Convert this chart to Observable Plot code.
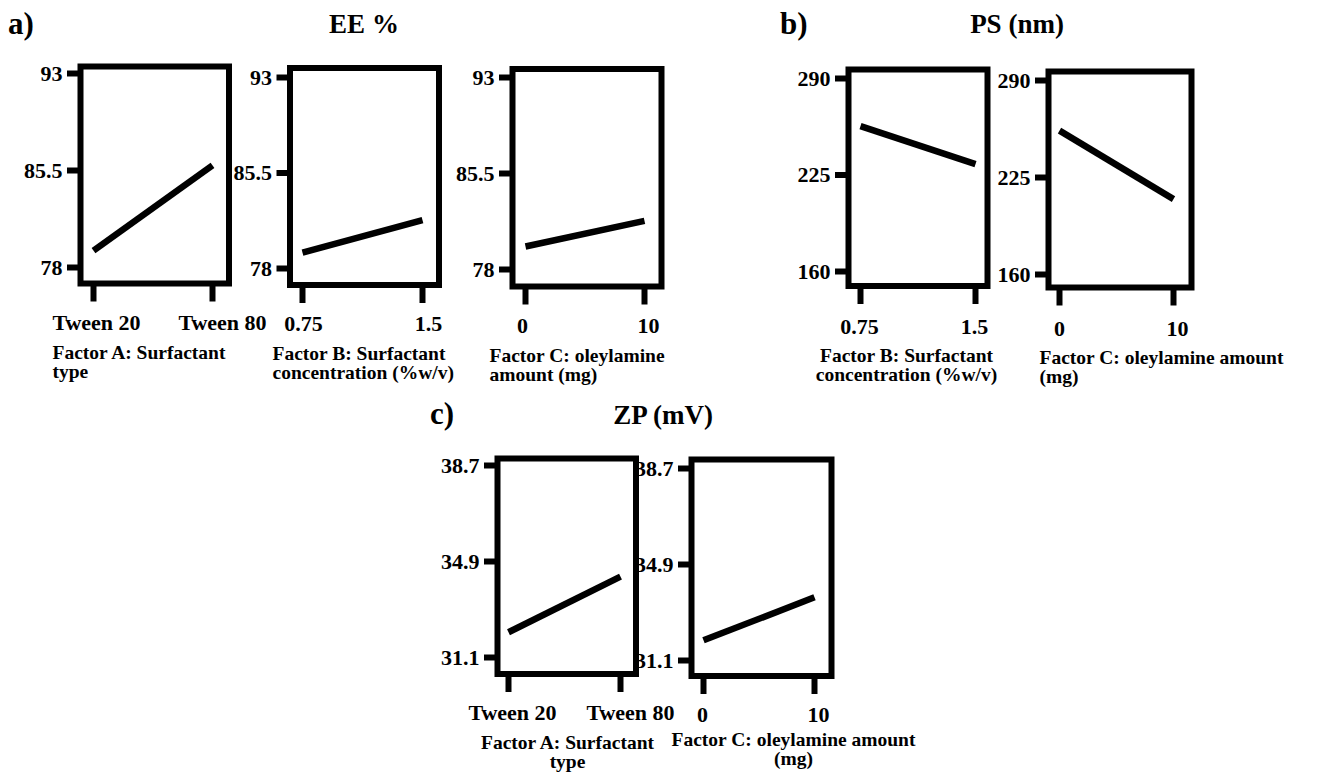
<!DOCTYPE html>
<html>
<head>
<meta charset="utf-8">
<script src="https://cdn.jsdelivr.net/npm/d3@7"></script>
<script src="https://cdn.jsdelivr.net/npm/@observablehq/plot@0.6"></script>
<style>
  html, body { margin: 0; padding: 0; background: #fff; }
  #stage { position: relative; width: 1318px; height: 775px; overflow: hidden;
           font-family: 'Liberation Serif', 'Times New Roman', serif; font-weight: bold; color: #000; }
  #stage svg { position: absolute; left: 0; top: 0; }
  .title { position: absolute; white-space: nowrap; line-height: 1; }
</style>
</head>
<body>
<div id="stage"></div>
<script>
// ---------- data ----------
const surfactantTypes = ["Tween 20", "Tween 80"];   // Factor A levels
const surfactantConc = [0.75, 1.5];                 // Factor B levels (%w/v)
const oleylamineAmount = [0, 10];                   // Factor C levels (mg)

const eeTicks = [78, 85.5, 93];
const psTicks = [160, 225, 290];
const zpTicks = [31.1, 34.9, 38.7];

const eeVsA = [79.3, 85.9];
const eeVsB = [79.25, 81.8];
const eeVsC = [79.8, 81.8];
const psVsB = [257.9, 232.3];
const psVsC = [256.4, 210.5];
const zpVsA = [32.1, 34.3];
const zpVsC = [31.9, 33.6];

const labelA = "Factor A: Surfactant\ntype";
const labelB = "Factor B: Surfactant\nconcentration (%w/v)";
const labelC1 = "Factor C: oleylamine\namount (mg)";
const labelC2 = "Factor C: oleylamine amount\n(mg)";

const groupTitles = [
  {letter: "a)", name: "EE %"},
  {letter: "b)", name: "PS (nm)"},
  {letter: "c)", name: "ZP (mV)"}
];

// ---------- layout (page pixels) ----------
const W = 1318, H = 775;
const FONT = "Liberation Serif";

const panels = [
  {levels: surfactantTypes, cat: true, values: eeVsA, ticks: eeTicks, label: labelA,
   frame: {l: 80, t: 66, r: 228.5, b: 283}, xPx: [93, 212], yPx: [267, 73],
   lab: {anchor: "start", x: 52, base: 359}, xPad: 12, xLabDx: [3, 10]},
  {levels: surfactantConc, cat: false, values: eeVsB, ticks: eeTicks, label: labelB,
   frame: {l: 289.5, t: 67.5, r: 438.5, b: 284.5}, xPx: [302, 422], yPx: [268, 77],
   lab: {anchor: "start", x: 272, base: 360}, xPad: 12, xLabDx: [1, 6]},
  {levels: oleylamineAmount, cat: false, values: eeVsC, ticks: eeTicks, label: labelC1,
   frame: {l: 512, t: 68.5, r: 661, b: 286}, xPx: [525, 644], yPx: [269, 77],
   lab: {anchor: "start", x: 489, base: 362}, xPad: 12, xLabDx: [-3, 4]},
  {levels: surfactantConc, cat: false, values: psVsB, ticks: psTicks, label: labelB,
   frame: {l: 848, t: 69, r: 987, b: 285.5}, xPx: [860, 975], yPx: [271, 78],
   lab: {anchor: "middle", x: 906, base: 362}, xPad: 14, xLabDx: [-1, -1]},
  {levels: oleylamineAmount, cat: false, values: psVsC, ticks: psTicks, label: labelC2,
   frame: {l: 1048, t: 71, r: 1191, b: 287}, xPx: [1059, 1173], yPx: [274, 80],
   lab: {anchor: "start", x: 1039, base: 364}, xPad: 14, xLabDx: [0, 4]},
  {levels: surfactantTypes, cat: true, values: zpVsA, ticks: zpTicks, label: labelA,
   frame: {l: 497, t: 458, r: 635.5, b: 673.5}, xPx: [508, 620], yPx: [657, 465],
   lab: {anchor: "middle", x: 567, base: 749}, xPad: 12, xLabDx: [4, 10]},
  {levels: oleylamineAmount, cat: false, values: zpVsC, ticks: zpTicks, label: labelC2,
   frame: {l: 691, t: 459, r: 831, b: 675.5}, xPx: [703, 814], yPx: [660, 468],
   lab: {anchor: "middle", x: 793, base: 746}, xPad: 12, xLabDx: [-1, 4]}
];

const titlePos = [
  {lx: 8, ly: 8, cx: 364, cy: 10.5},
  {lx: 780, ly: 8, cx: 1017, cy: 11},
  {lx: 430, ly: 398, cx: 663, cy: 402}
];

const stage = document.getElementById("stage");
const X_TICK = 18.5;

// ---------- panels ----------
for (const p of panels) {
  const f = p.frame;
  const data = p.levels.map((lv, i) => ({x: lv, y: p.values[i]}));
  const labFs = 19.5;
  const dy = p.lab.base - f.b - 0.71 * labFs;
  const dx = p.lab.anchor === "start" ? p.lab.x - f.l : p.lab.x - (f.l + f.r) / 2;
  const tickText = {fontSize: 22, fontWeight: "bold", fontFamily: FONT, fill: "#000"};
  const svg = Plot.plot({
    width: W, height: H,
    marginLeft: f.l, marginTop: f.t, marginRight: W - f.r, marginBottom: H - f.b,
    style: {background: "transparent", fontFamily: FONT, overflow: "visible"},
    x: p.cat
      ? {type: "point", domain: p.levels, range: p.xPx, padding: 0}
      : {type: "linear", domain: p.levels, range: p.xPx},
    y: {type: "linear", domain: [p.ticks[0], p.ticks[p.ticks.length - 1]], range: p.yPx},
    marks: [
      Plot.axisY({ticks: p.ticks, tickSize: 13, tickPadding: 5, stroke: "#000", strokeWidth: 6,
        ...tickText, tickFormat: d => String(d), label: null}),
      Plot.axisX({ticks: p.levels, tickSize: X_TICK, stroke: "#000", strokeWidth: 6,
        ...tickText, tickFormat: () => "", label: null}),
      ...p.levels.map((lv, i) => Plot.text([lv], {
        x: d => d, frameAnchor: "bottom", lineAnchor: "top",
        dy: X_TICK + p.xPad, dx: p.xLabDx[i], text: d => String(d), ...tickText
      })),
      Plot.frame({stroke: "#000", strokeWidth: 6}),
      Plot.line(data, {x: "x", y: "y", stroke: "#000", strokeWidth: 6.5, strokeLinecap: "butt"}),
      Plot.text([p.label], {
        frameAnchor: p.lab.anchor === "start" ? "bottom-left" : "bottom",
        dx, dy, textAnchor: p.lab.anchor, lineAnchor: "top", lineHeight: 0.97,
        fontSize: labFs, fontWeight: "bold", fontFamily: FONT, fill: "#000"
      })
    ]
  });
  d3.select(svg).selectAll("text, tspan")
    .attr("font-family", FONT)
    .style("font-family", FONT);
  stage.appendChild(svg);
}

// ---------- group titles ----------
groupTitles.forEach((g, i) => {
  const pos = titlePos[i];
  const a = document.createElement("div");
  a.className = "title";
  a.style.cssText = `left:${pos.lx}px;top:${pos.ly}px;font-size:31px;`;
  a.textContent = g.letter;
  stage.appendChild(a);
  const n = document.createElement("div");
  n.className = "title";
  n.style.cssText = `left:${pos.cx}px;top:${pos.cy}px;font-size:27px;transform:translateX(-50%);`;
  n.textContent = g.name;
  stage.appendChild(n);
});
</script>
</body>
</html>
